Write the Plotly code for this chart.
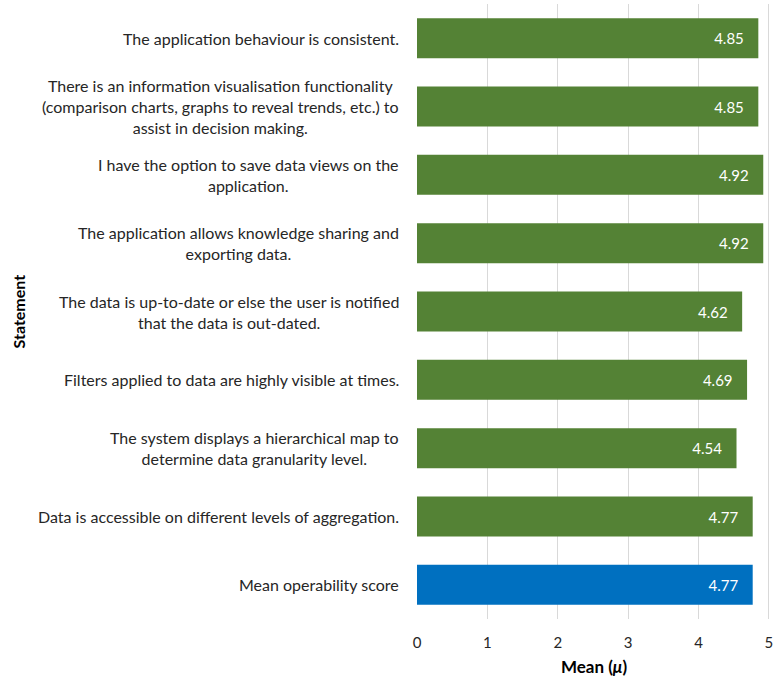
import plotly.graph_objects as go

statements = [
    "Mean operability score",
    "Data is accessible on different levels of aggregation.",
    "The system displays a hierarchical map to<br>determine data granularity level.",
    "Filters applied to data are highly visible at times.",
    "The data is up-to-date or else the user is notified<br>that the data is out-dated.",
    "The application allows knowledge sharing and<br>exporting data.",
    "I have the option to save data views on the<br>application.",
    "There is an information visualisation functionality<br>(comparison charts, graphs to reveal trends, etc.) to<br>assist in decision making.",
    "The application behaviour is consistent.",
]
means = [4.77, 4.77, 4.54, 4.69, 4.62, 4.92, 4.92, 4.85, 4.85]
colors = ["#0070C0"] + ["#548235"] * 8
x_ticks = [0, 1, 2, 3, 4, 5]

FONT = "Lato"
TXT = "#262626"
ids = list(range(len(statements)))
PAD = "\u00a0\u00a0\u00a0"

fig = go.Figure(go.Bar(
    x=means, y=ids, orientation="h",
    marker=dict(color=colors, line=dict(width=0)),
    width=0.585,
    text=[f"{v:.2f}{PAD}" for v in means],
    textposition="inside", insidetextanchor="end",
    textfont=dict(color="white", size=15, family=FONT),
    cliponaxis=False,
))

for i, s in zip(ids, statements):
    fig.add_annotation(x=0, xref="paper", y=i, yref="y", text=s,
                       showarrow=False, xanchor="right", align="center",
                       xshift=-16, font=dict(size=16, family=FONT, color=TXT))

fig.add_annotation(x=0, xref="paper", y=0.5, yref="paper", text="<b>Statement</b>",
                   showarrow=False, textangle=-90, xanchor="center", xshift=-399,
                   font=dict(size=16, family=FONT, color="black"))

fig.update_layout(
    width=774, height=681,
    margin=dict(l=417, r=1, t=4, b=62),
    paper_bgcolor="white", plot_bgcolor="white",
    showlegend=False,
    xaxis=dict(range=[0, 5.03], tickvals=x_ticks, showgrid=True, gridcolor="#d9d9d9",
               gridwidth=1, zeroline=False, showline=False,
               ticklabelstandoff=13, ticklabeloverflow="allow",
               tickfont=dict(size=15, family=FONT, color=TXT),
               title=dict(text="<b>Mean (<i>μ</i>)</b>", standoff=11,
                          font=dict(size=17, family=FONT, color="black"))),
    yaxis=dict(range=[-0.5, 8.5], showticklabels=False, showgrid=False,
               zeroline=False, showline=False, tickvals=ids),
    uniformtext=dict(minsize=8, mode="show"),
)

fig.write_html(
    "out.html",
    config={"displayModeBar": False},
    post_script="document.body.style.margin='0';document.body.style.overflow='hidden';",
)
